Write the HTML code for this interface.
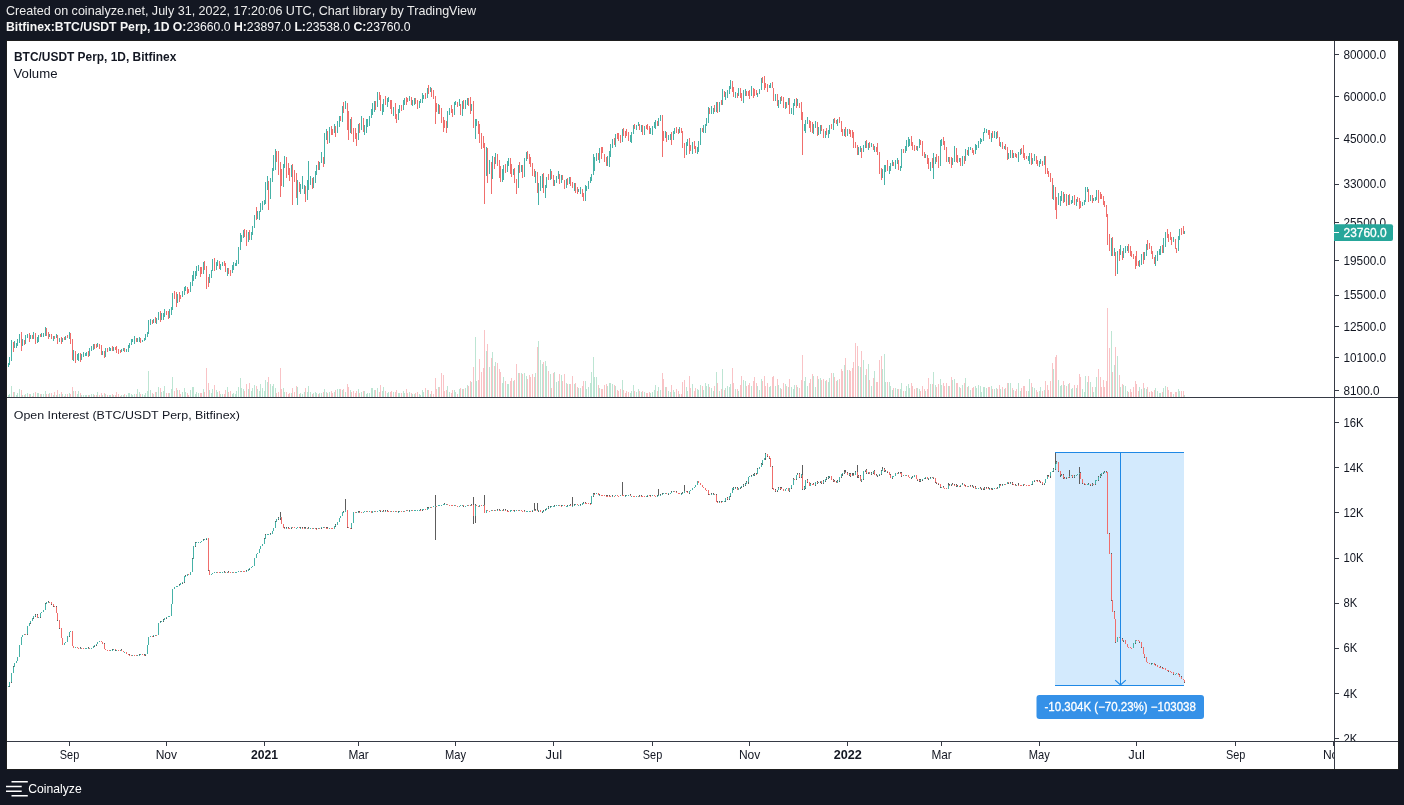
<!DOCTYPE html>
<html><head><meta charset="utf-8"><title>BTC/USDT Perp Chart</title>
<style>html,body{margin:0;padding:0;background:#131722;width:1404px;height:805px;overflow:hidden}</style></head>
<body>
<svg width="1404" height="805" viewBox="0 0 1404 805" style="position:absolute;left:0;top:0;will-change:transform" font-family="'Liberation Sans', Arial, sans-serif"><defs><clipPath id="cp"><rect x="7" y="41" width="1327" height="356"/></clipPath><clipPath id="co"><rect x="7" y="398" width="1327" height="343"/></clipPath><clipPath id="cso"><rect x="1335" y="398" width="63" height="343"/></clipPath><clipPath id="ct"><rect x="7" y="742" width="1327" height="27"/></clipPath></defs><rect x="6.5" y="40.5" width="1392" height="729" fill="#ffffff" stroke="#1e1e1e" stroke-width="1"/><text x="6" y="14.5" font-size="12.4" fill="#ededed" textLength="470.1" lengthAdjust="spacingAndGlyphs">Created on coinalyze.net, July 31, 2022, 17:20:06 UTC, Chart library by TradingView</text><text x="6" y="31.3" font-size="12" fill="#f5f5f5" textLength="404.5" lengthAdjust="spacingAndGlyphs"><tspan font-weight="bold">Bitfinex:BTC/USDT Perp, 1D O:</tspan>23660.0 <tspan font-weight="bold">H:</tspan>23897.0 <tspan font-weight="bold">L:</tspan>23538.0 <tspan font-weight="bold">C:</tspan>23760.0</text><g clip-path="url(#cp)" shape-rendering="crispEdges"><path d="M8.5 395V397M9.5 394V397M11.5 386V397M14.5 392V397M16.5 395V397M17.5 393V397M19.5 389V397M22.5 395V397M25.5 394V397M27.5 393V397M30.5 394V397M33.5 393V397M37.5 393V397M38.5 393V397M41.5 394V397M43.5 394V397M45.5 391V397M49.5 393V397M53.5 395V397M56.5 395V397M59.5 394V397M62.5 394V397M65.5 394V397M69.5 393V397M73.5 391V397M77.5 394V397M78.5 391V397M81.5 395V397M83.5 395V397M85.5 395V397M86.5 395V397M89.5 395V397M91.5 394V397M93.5 394V397M97.5 392V397M102.5 395V397M105.5 394V397M109.5 395V397M110.5 395V397M113.5 395V397M121.5 395V397M123.5 395V397M126.5 395V397M128.5 393V397M129.5 393V397M131.5 394V397M132.5 395V397M134.5 394V397M137.5 389V397M139.5 392V397M142.5 394V397M144.5 395V397M145.5 393V397M147.5 391V397M148.5 371V397M150.5 390V397M153.5 394V397M156.5 392V397M158.5 387V397M161.5 392V397M163.5 391V397M164.5 386V397M169.5 393V397M171.5 389V397M172.5 377V397M177.5 390V397M182.5 392V397M184.5 388V397M185.5 392V397M190.5 390V397M192.5 387V397M193.5 387V397M195.5 394V397M196.5 392V397M198.5 393V397M203.5 389V397M209.5 390V397M211.5 393V397M212.5 389V397M216.5 390V397M217.5 392V397M220.5 394V397M222.5 394V397M227.5 387V397M232.5 394V397M233.5 393V397M235.5 394V397M236.5 391V397M238.5 387V397M240.5 378V397M241.5 388V397M243.5 389V397M248.5 389V397M251.5 391V397M252.5 388V397M254.5 385V397M257.5 389V397M259.5 391V397M260.5 384V397M262.5 388V397M264.5 391V397M265.5 380V397M267.5 382V397M270.5 384V397M272.5 386V397M273.5 384V397M275.5 388V397M283.5 388V397M284.5 392V397M291.5 393V397M297.5 387V397M300.5 393V397M302.5 394V397M304.5 392V397M307.5 392V397M308.5 386V397M310.5 392V397M313.5 393V397M315.5 392V397M316.5 393V397M319.5 393V397M321.5 393V397M324.5 389V397M326.5 392V397M329.5 392V397M334.5 392V397M337.5 389V397M339.5 389V397M342.5 390V397M345.5 392V397M350.5 390V397M358.5 389V397M361.5 392V397M364.5 391V397M366.5 394V397M367.5 393V397M369.5 393V397M371.5 388V397M372.5 388V397M374.5 390V397M377.5 388V397M382.5 391V397M383.5 387V397M387.5 393V397M388.5 392V397M393.5 392V397M398.5 393V397M399.5 393V397M403.5 391V397M404.5 393V397M409.5 392V397M412.5 394V397M414.5 394V397M419.5 394V397M420.5 395V397M422.5 390V397M423.5 392V397M427.5 390V397M430.5 394V397M438.5 387V397M447.5 386V397M449.5 392V397M454.5 390V397M455.5 392V397M459.5 389V397M462.5 389V397M465.5 388V397M467.5 385V397M471.5 382V397M475.5 337V397M476.5 381V397M486.5 351V397M489.5 367V397M492.5 352V397M495.5 362V397M502.5 383V397M503.5 377V397M507.5 384V397M508.5 384V397M513.5 381V397M518.5 373V397M521.5 373V397M524.5 373V397M526.5 376V397M535.5 373V397M538.5 341V397M540.5 360V397M542.5 364V397M545.5 361V397M546.5 366V397M550.5 374V397M554.5 372V397M556.5 382V397M558.5 381V397M561.5 375V397M566.5 383V397M569.5 384V397M574.5 384V397M578.5 388V397M580.5 388V397M585.5 381V397M586.5 389V397M588.5 387V397M590.5 383V397M591.5 372V397M593.5 357V397M594.5 377V397M596.5 377V397M599.5 388V397M607.5 386V397M609.5 383V397M610.5 383V397M612.5 384V397M615.5 386V397M622.5 380V397M630.5 393V397M631.5 391V397M633.5 385V397M636.5 392V397M638.5 389V397M641.5 392V397M644.5 392V397M650.5 393V397M652.5 392V397M654.5 390V397M655.5 385V397M658.5 387V397M660.5 390V397M665.5 387V397M668.5 391V397M670.5 392V397M673.5 390V397M674.5 392V397M679.5 394V397M686.5 387V397M687.5 391V397M692.5 384V397M697.5 389V397M698.5 390V397M700.5 385V397M703.5 390V397M705.5 383V397M706.5 386V397M708.5 384V397M711.5 388V397M713.5 391V397M716.5 372V397M719.5 391V397M722.5 369V397M725.5 388V397M727.5 386V397M729.5 387V397M730.5 384V397M735.5 389V397M738.5 391V397M743.5 380V397M745.5 381V397M751.5 386V397M757.5 386V397M759.5 390V397M761.5 379V397M769.5 387V397M770.5 386V397M775.5 386V397M778.5 385V397M780.5 388V397M785.5 384V397M788.5 387V397M791.5 387V397M793.5 389V397M794.5 385V397M797.5 387V397M804.5 381V397M805.5 377V397M807.5 386V397M813.5 376V397M815.5 387V397M818.5 379V397M820.5 378V397M825.5 381V397M828.5 382V397M829.5 378V397M833.5 373V397M837.5 380V397M844.5 365V397M847.5 370V397M858.5 366V397M860.5 367V397M863.5 360V397M865.5 375V397M868.5 364V397M871.5 386V397M874.5 371V397M882.5 369V397M884.5 354V397M885.5 382V397M889.5 382V397M890.5 386V397M892.5 390V397M895.5 388V397M897.5 389V397M900.5 389V397M901.5 383V397M905.5 391V397M906.5 386V397M908.5 384V397M909.5 388V397M917.5 388V397M919.5 389V397M925.5 391V397M930.5 384V397M933.5 372V397M935.5 385V397M940.5 379V397M941.5 385V397M948.5 386V397M952.5 380V397M954.5 379V397M959.5 387V397M962.5 385V397M965.5 378V397M968.5 386V397M970.5 390V397M975.5 386V397M976.5 388V397M978.5 385V397M980.5 386V397M981.5 392V397M983.5 387V397M984.5 387V397M986.5 388V397M991.5 386V397M994.5 389V397M996.5 388V397M1000.5 389V397M1004.5 389V397M1008.5 383V397M1010.5 383V397M1013.5 390V397M1018.5 383V397M1020.5 391V397M1028.5 391V397M1029.5 379V397M1032.5 387V397M1034.5 388V397M1039.5 391V397M1040.5 387V397M1044.5 390V397M1053.5 369V397M1058.5 380V397M1060.5 386V397M1061.5 385V397M1064.5 385V397M1068.5 384V397M1071.5 389V397M1072.5 388V397M1076.5 388V397M1082.5 389V397M1084.5 392V397M1085.5 376V397M1087.5 382V397M1090.5 382V397M1093.5 392V397M1095.5 387V397M1096.5 377V397M1111.5 331V397M1114.5 365V397M1117.5 356V397M1120.5 387V397M1123.5 385V397M1125.5 386V397M1127.5 391V397M1139.5 387V397M1141.5 389V397M1144.5 388V397M1146.5 389V397M1155.5 388V397M1157.5 391V397M1159.5 393V397M1160.5 393V397M1163.5 388V397M1165.5 386V397M1173.5 394V397M1178.5 389V397M1179.5 391V397M1184.5 395V397" stroke="#bde5d3" stroke-width="1" fill="none"/><path d="M13.5 392V397M21.5 390V397M24.5 395V397M29.5 394V397M32.5 396V397M35.5 392V397M40.5 394V397M46.5 394V397M48.5 394V397M51.5 393V397M54.5 392V397M57.5 390V397M61.5 392V397M64.5 396V397M67.5 394V397M70.5 394V397M72.5 387V397M75.5 391V397M80.5 393V397M88.5 395V397M94.5 395V397M96.5 395V397M99.5 395V397M101.5 393V397M104.5 393V397M107.5 395V397M112.5 394V397M115.5 395V397M116.5 392V397M118.5 394V397M120.5 396V397M124.5 394V397M136.5 394V397M140.5 394V397M152.5 393V397M155.5 392V397M160.5 388V397M166.5 393V397M168.5 393V397M174.5 391V397M176.5 388V397M179.5 390V397M180.5 394V397M187.5 393V397M188.5 395V397M200.5 393V397M201.5 393V397M204.5 392V397M206.5 368V397M208.5 383V397M214.5 385V397M219.5 391V397M224.5 394V397M225.5 390V397M228.5 392V397M230.5 391V397M244.5 391V397M246.5 384V397M249.5 383V397M256.5 386V397M268.5 377V397M276.5 393V397M278.5 392V397M280.5 368V397M281.5 389V397M286.5 392V397M288.5 394V397M289.5 393V397M292.5 388V397M294.5 392V397M296.5 386V397M299.5 394V397M305.5 388V397M312.5 394V397M318.5 394V397M323.5 392V397M327.5 393V397M331.5 391V397M332.5 393V397M335.5 390V397M340.5 389V397M343.5 389V397M347.5 384V397M348.5 387V397M351.5 392V397M353.5 391V397M355.5 393V397M356.5 391V397M359.5 393V397M363.5 391V397M375.5 390V397M379.5 392V397M380.5 385V397M385.5 391V397M390.5 392V397M391.5 391V397M395.5 392V397M396.5 390V397M401.5 393V397M406.5 389V397M407.5 393V397M411.5 393V397M415.5 393V397M417.5 392V397M425.5 388V397M428.5 390V397M431.5 391V397M433.5 394V397M435.5 378V397M436.5 389V397M439.5 387V397M441.5 373V397M443.5 375V397M444.5 391V397M446.5 390V397M451.5 393V397M452.5 390V397M457.5 394V397M460.5 388V397M463.5 389V397M468.5 386V397M470.5 381V397M473.5 367V397M478.5 380V397M479.5 359V397M481.5 372V397M483.5 368V397M484.5 330V397M487.5 344V397M491.5 358V397M494.5 366V397M497.5 363V397M499.5 369V397M500.5 372V397M505.5 381V397M510.5 381V397M511.5 378V397M514.5 380V397M516.5 364V397M519.5 373V397M522.5 374V397M527.5 379V397M529.5 375V397M530.5 377V397M532.5 374V397M534.5 377V397M537.5 347V397M543.5 362V397M548.5 371V397M551.5 388V397M553.5 373V397M559.5 374V397M562.5 381V397M564.5 374V397M567.5 384V397M570.5 384V397M572.5 376V397M575.5 383V397M577.5 387V397M582.5 386V397M583.5 381V397M598.5 385V397M601.5 389V397M602.5 389V397M604.5 385V397M606.5 384V397M614.5 385V397M617.5 390V397M618.5 391V397M620.5 389V397M623.5 390V397M625.5 393V397M626.5 391V397M628.5 392V397M634.5 391V397M639.5 391V397M642.5 391V397M646.5 393V397M647.5 393V397M649.5 392V397M657.5 391V397M662.5 373V397M663.5 379V397M666.5 387V397M671.5 385V397M676.5 389V397M678.5 391V397M681.5 394V397M682.5 382V397M684.5 380V397M689.5 376V397M690.5 388V397M694.5 391V397M695.5 388V397M702.5 386V397M709.5 387V397M714.5 386V397M717.5 383V397M721.5 389V397M724.5 390V397M732.5 368V397M733.5 383V397M737.5 389V397M740.5 385V397M741.5 376V397M746.5 386V397M748.5 385V397M749.5 383V397M753.5 381V397M754.5 377V397M756.5 383V397M762.5 381V397M764.5 376V397M765.5 386V397M767.5 383V397M772.5 377V397M773.5 376V397M777.5 379V397M781.5 389V397M783.5 383V397M786.5 386V397M789.5 379V397M796.5 385V397M799.5 388V397M801.5 380V397M802.5 355V397M809.5 383V397M810.5 379V397M812.5 374V397M817.5 376V397M821.5 380V397M823.5 379V397M826.5 380V397M831.5 373V397M834.5 377V397M836.5 381V397M839.5 379V397M841.5 369V397M842.5 371V397M845.5 358V397M849.5 370V397M850.5 371V397M852.5 368V397M853.5 362V397M855.5 343V397M857.5 346V397M861.5 351V397M866.5 369V397M869.5 380V397M873.5 378V397M876.5 382V397M877.5 382V397M879.5 360V397M881.5 356V397M887.5 382V397M893.5 388V397M898.5 389V397M903.5 391V397M911.5 383V397M912.5 386V397M914.5 389V397M916.5 388V397M920.5 391V397M922.5 386V397M924.5 389V397M927.5 389V397M928.5 378V397M932.5 384V397M936.5 387V397M938.5 384V397M943.5 383V397M944.5 386V397M946.5 383V397M949.5 386V397M951.5 377V397M956.5 383V397M957.5 383V397M960.5 388V397M964.5 383V397M967.5 387V397M972.5 388V397M973.5 387V397M988.5 387V397M989.5 387V397M992.5 389V397M997.5 389V397M999.5 385V397M1002.5 387V397M1005.5 388V397M1007.5 383V397M1012.5 388V397M1015.5 391V397M1016.5 389V397M1021.5 388V397M1023.5 386V397M1024.5 386V397M1026.5 391V397M1031.5 383V397M1036.5 390V397M1037.5 392V397M1042.5 391V397M1045.5 381V397M1047.5 385V397M1048.5 390V397M1050.5 381V397M1052.5 363V397M1055.5 357V397M1056.5 355V397M1063.5 381V397M1066.5 386V397M1069.5 383V397M1074.5 385V397M1077.5 385V397M1079.5 374V397M1080.5 377V397M1088.5 376V397M1092.5 387V397M1098.5 369V397M1100.5 377V397M1101.5 387V397M1103.5 380V397M1104.5 387V397M1106.5 381V397M1107.5 308V397M1109.5 348V397M1112.5 372V397M1115.5 347V397M1119.5 375V397M1122.5 384V397M1128.5 392V397M1130.5 389V397M1131.5 392V397M1133.5 387V397M1135.5 381V397M1136.5 384V397M1138.5 391V397M1143.5 383V397M1147.5 387V397M1149.5 392V397M1151.5 391V397M1152.5 392V397M1154.5 390V397M1162.5 392V397M1167.5 387V397M1168.5 390V397M1170.5 392V397M1171.5 392V397M1175.5 392V397M1176.5 392V397M1181.5 391V397M1183.5 391V397" stroke="#f9c3c6" stroke-width="1" fill="none"/><path d="M8.5 363V367M9.5 357V365M11.5 340V361M14.5 341V348M16.5 343V348M17.5 339V346M19.5 334V343M22.5 339V346M25.5 335V344M27.5 334V338M30.5 335V339M33.5 332V339M37.5 337V343M38.5 335V342M41.5 333V337M43.5 333V337M45.5 327V336M49.5 334V337M53.5 336V341M56.5 334V338M59.5 338V342M62.5 338V342M65.5 336V340M69.5 332V339M73.5 350V361M77.5 354V360M78.5 353V361M81.5 354V360M83.5 352V357M85.5 353V356M86.5 352V356M89.5 348V356M91.5 346V351M93.5 344V350M97.5 343V347M102.5 351V355M105.5 348V357M109.5 347V351M110.5 348V351M113.5 347V351M121.5 349V352M123.5 348V351M126.5 349V352M128.5 345V352M129.5 343V348M131.5 339V345M132.5 339V342M134.5 336V344M137.5 338V342M139.5 337V342M142.5 340V342M144.5 338V341M145.5 334V340M147.5 332V337M148.5 320V334M150.5 319V325M153.5 319V323M156.5 318V324M158.5 312V320M161.5 313V320M163.5 313V320M164.5 309V317M169.5 309V318M171.5 307V315M172.5 293V310M177.5 294V303M182.5 291V297M184.5 287V295M185.5 286V291M190.5 282V292M192.5 275V286M193.5 271V281M195.5 271V279M196.5 266V276M198.5 265V271M203.5 262V274M209.5 274V283M211.5 270V278M212.5 259V271M216.5 262V270M217.5 260V266M220.5 264V270M222.5 262V266M227.5 268V276M232.5 265V273M233.5 262V270M235.5 263V266M236.5 260V266M238.5 247V264M240.5 233V250M241.5 235V242M243.5 230V238M248.5 232V242M251.5 232V240M252.5 226V235M254.5 215V228M257.5 211V219M259.5 211V220M260.5 203V212M262.5 201V210M264.5 200V205M265.5 182V204M267.5 176V190M270.5 178V199M272.5 168V182M273.5 155V171M275.5 149V170M283.5 164V187M284.5 156V168M291.5 165V177M297.5 180V205M300.5 184V194M302.5 176V189M304.5 185V194M307.5 180V200M308.5 161V190M310.5 176V185M313.5 177V188M315.5 171V183M316.5 165V175M319.5 162V170M321.5 152V163M324.5 133V164M326.5 129V140M329.5 127V143M334.5 124V133M337.5 121V133M339.5 116V127M342.5 106V122M345.5 101V109M350.5 119V133M358.5 124V140M361.5 116V130M364.5 125V135M366.5 119V133M367.5 119V127M369.5 116V126M371.5 109V118M372.5 103V115M374.5 101V112M377.5 92V107M382.5 104V115M383.5 99V112M387.5 98V107M388.5 97V102M393.5 107V116M398.5 109V120M399.5 105V113M403.5 100V110M404.5 98V105M409.5 96V101M412.5 100V106M414.5 98V105M419.5 101V108M420.5 99V103M422.5 93V103M423.5 95V99M427.5 88V98M430.5 87V92M438.5 104V114M447.5 111V128M449.5 108V115M454.5 102V115M455.5 101V105M459.5 99V106M462.5 101V116M465.5 100V109M467.5 98V105M471.5 104V111M475.5 119V139M476.5 119V126M486.5 147V176M489.5 160V174M492.5 156V179M495.5 153V164M502.5 169V182M503.5 165V180M507.5 161V172M508.5 158V166M513.5 169V175M518.5 165V188M521.5 165V172M524.5 158V177M526.5 152V161M535.5 171V183M538.5 183V205M540.5 176V191M542.5 174V188M545.5 185V198M546.5 177V188M550.5 169V180M554.5 180V186M556.5 176V183M558.5 171V179M561.5 175V183M566.5 179V188M569.5 177V184M574.5 183V191M578.5 189V192M580.5 187V194M585.5 185V201M586.5 186V191M588.5 181V189M590.5 177V183M591.5 174V181M593.5 154V175M594.5 157V171M596.5 153V161M599.5 148V163M607.5 156V166M609.5 151V167M610.5 144V157M612.5 139V148M615.5 134V147M622.5 129V142M630.5 135V142M631.5 132V143M633.5 125V134M636.5 125V130M638.5 122V126M641.5 125V132M644.5 126V135M650.5 128V134M652.5 126V135M654.5 122V128M655.5 120V129M658.5 118V126M660.5 115V121M665.5 131V138M668.5 135V140M670.5 134V140M673.5 131V140M674.5 128V134M679.5 127V133M686.5 142V155M687.5 139V146M692.5 142V154M697.5 147V154M698.5 141V152M700.5 128V145M703.5 125V133M705.5 124V133M706.5 118V126M708.5 107V123M711.5 106V114M713.5 108V114M716.5 102V112M719.5 102V112M722.5 89V105M725.5 92V100M727.5 90V98M729.5 86V94M730.5 80V89M735.5 92V98M738.5 88V96M743.5 90V103M745.5 89V96M751.5 86V96M757.5 93V97M759.5 89V94M761.5 78V90M769.5 85V88M770.5 83V88M775.5 94V101M778.5 100V108M780.5 97V104M785.5 102V109M788.5 98V105M791.5 108V114M793.5 103V115M794.5 99V106M797.5 99V106M804.5 124V131M805.5 120V133M807.5 117V124M813.5 124V134M815.5 121V128M818.5 127V135M820.5 125V134M825.5 131V138M828.5 130V138M829.5 125V134M833.5 119V130M837.5 119V126M844.5 129V136M847.5 129V136M858.5 147V155M860.5 146V152M863.5 145V152M865.5 141V148M868.5 143V150M871.5 143V147M874.5 146V152M882.5 169V178M884.5 165V185M885.5 165V172M889.5 166V174M890.5 163V171M892.5 160V166M895.5 160V169M897.5 158V164M900.5 166V171M901.5 149V168M905.5 146V153M906.5 140V151M908.5 137V147M909.5 139V146M917.5 146V151M919.5 139V148M925.5 154V158M930.5 162V171M933.5 153V179M935.5 157V164M940.5 140V166M941.5 139V146M948.5 157V162M952.5 158V165M954.5 146V162M959.5 158V162M962.5 156V166M965.5 149V161M968.5 147V156M970.5 147V150M975.5 144V154M976.5 145V150M978.5 141V148M980.5 138V144M981.5 139V142M983.5 132V141M984.5 128V133M986.5 129V133M991.5 133V142M994.5 131V138M996.5 132V139M1000.5 142V147M1004.5 146V149M1008.5 153V159M1010.5 150V158M1013.5 153V158M1018.5 152V162M1020.5 149V155M1028.5 156V161M1029.5 153V164M1032.5 158V164M1034.5 154V161M1039.5 161V167M1040.5 159V164M1044.5 156V165M1053.5 185V200M1058.5 193V205M1060.5 196V206M1061.5 191V201M1064.5 194V202M1068.5 195V205M1071.5 200V204M1072.5 196V203M1076.5 199V206M1082.5 202V206M1084.5 200V205M1085.5 187V202M1087.5 187V192M1090.5 195V201M1093.5 198V201M1095.5 197V201M1096.5 190V200M1111.5 238V256M1114.5 248V256M1117.5 251V274M1120.5 245V255M1123.5 248V258M1125.5 246V253M1127.5 246V251M1139.5 260V267M1141.5 254V265M1144.5 252V260M1146.5 244V256M1155.5 255V266M1157.5 251V261M1159.5 249V255M1160.5 246V255M1163.5 238V253M1165.5 232V247M1173.5 237V242M1178.5 236V251M1179.5 229V240M1184.5 231V234" stroke="#46b2a7" stroke-width="1" fill="none"/><path d="M13.5 342V352M21.5 332V351M24.5 340V345M29.5 333V342M32.5 335V339M35.5 333V344M40.5 334V337M46.5 328V336M48.5 332V339M51.5 334V339M54.5 336V339M57.5 335V344M61.5 337V344M64.5 337V340M67.5 335V338M70.5 333V344M72.5 339V360M75.5 351V363M80.5 353V362M88.5 351V357M94.5 344V349M96.5 344V348M99.5 344V349M101.5 345V355M104.5 351V358M107.5 348V352M112.5 346V351M115.5 347V350M116.5 346V353M118.5 349V354M120.5 350V353M124.5 348V352M136.5 338V342M140.5 338V343M152.5 320V324M155.5 317V323M160.5 311V322M166.5 311V315M168.5 311V319M174.5 291V299M176.5 292V307M179.5 292V302M180.5 295V299M187.5 287V294M188.5 289V293M200.5 267V277M201.5 267V274M204.5 261V270M206.5 266V289M208.5 277V287M214.5 258V271M219.5 261V269M224.5 261V266M225.5 263V272M228.5 268V274M230.5 270V276M244.5 229V237M246.5 230V246M249.5 230V240M256.5 207V220M268.5 181V210M276.5 151V162M278.5 151V175M280.5 162V197M281.5 169V186M286.5 157V178M288.5 163V175M289.5 168V181M292.5 164V205M294.5 170V182M296.5 173V198M299.5 182V192M305.5 186V202M312.5 178V189M318.5 161V170M323.5 157V167M327.5 131V144M331.5 126V135M332.5 129V135M335.5 126V137M340.5 116V121M343.5 102V113M347.5 103V130M348.5 111V140M351.5 117V134M353.5 128V142M355.5 128V139M356.5 133V146M359.5 123V133M363.5 118V132M375.5 101V110M379.5 92V100M380.5 95V111M385.5 96V105M390.5 100V109M391.5 100V114M395.5 103V119M396.5 114V123M401.5 105V111M406.5 97V105M407.5 98V102M411.5 97V105M415.5 98V104M417.5 100V109M425.5 93V99M428.5 85V94M431.5 88V97M433.5 90V99M435.5 96V124M436.5 103V112M439.5 105V114M441.5 108V123M443.5 117V132M444.5 120V128M446.5 121V133M451.5 105V113M452.5 109V117M457.5 102V107M460.5 104V115M463.5 100V109M468.5 98V106M470.5 97V114M473.5 101V128M478.5 121V134M479.5 124V143M481.5 133V149M483.5 136V148M484.5 143V204M487.5 148V183M491.5 162V194M494.5 157V169M497.5 154V166M499.5 160V178M500.5 166V182M505.5 164V173M510.5 158V174M511.5 164V177M514.5 168V183M516.5 179V194M519.5 162V173M522.5 165V178M527.5 151V159M529.5 154V164M530.5 157V167M532.5 163V176M534.5 169V177M537.5 172V193M543.5 173V193M548.5 174V180M551.5 171V179M553.5 175V186M559.5 174V184M562.5 175V180M564.5 180V189M567.5 178V185M570.5 177V186M572.5 182V188M575.5 183V193M577.5 187V194M582.5 189V197M583.5 193V201M598.5 153V160M601.5 147V159M602.5 147V153M604.5 154V162M606.5 157V166M614.5 138V145M617.5 133V139M618.5 133V141M620.5 135V143M623.5 128V136M625.5 131V138M626.5 129V136M628.5 132V141M634.5 124V129M639.5 124V130M642.5 125V135M646.5 125V129M647.5 124V130M649.5 126V134M657.5 121V126M662.5 115V157M663.5 131V141M666.5 132V142M671.5 132V145M676.5 127V133M678.5 129V134M681.5 128V133M682.5 131V148M684.5 143V158M689.5 138V154M690.5 145V151M694.5 141V149M695.5 146V153M702.5 128V132M709.5 108V114M714.5 105V112M717.5 102V113M721.5 100V105M724.5 91V97M732.5 81V92M733.5 87V97M737.5 93V98M740.5 88V98M741.5 93V101M746.5 91V96M748.5 91V96M749.5 90V99M753.5 88V98M754.5 89V96M756.5 90V95M762.5 77V83M764.5 76V90M765.5 83V88M767.5 84V92M772.5 82V88M773.5 88V101M777.5 94V106M781.5 96V101M783.5 97V108M786.5 102V108M789.5 98V114M796.5 98V108M799.5 103V108M801.5 102V120M802.5 112V155M809.5 120V128M810.5 121V132M812.5 122V133M817.5 122V136M821.5 125V131M823.5 129V138M826.5 128V135M831.5 124V129M834.5 118V123M836.5 120V124M839.5 117V123M841.5 121V132M842.5 129V136M845.5 127V137M849.5 129V134M850.5 130V137M852.5 130V138M853.5 132V148M855.5 142V148M857.5 145V155M861.5 148V158M866.5 140V148M869.5 142V148M873.5 144V150M876.5 147V152M877.5 143V155M879.5 152V174M881.5 168V180M887.5 160V171M893.5 162V166M898.5 160V170M903.5 149V153M911.5 136V146M912.5 142V150M914.5 145V151M916.5 146V150M920.5 140V145M922.5 141V156M924.5 152V158M927.5 155V164M928.5 158V169M932.5 158V168M936.5 154V162M938.5 156V168M943.5 137V145M944.5 141V150M946.5 147V162M949.5 157V164M951.5 157V168M956.5 148V162M957.5 155V163M960.5 158V166M964.5 156V164M967.5 150V155M972.5 148V153M973.5 150V155M988.5 130V135M989.5 130V139M992.5 131V138M997.5 131V138M999.5 137V146M1002.5 142V149M1005.5 144V150M1007.5 147V160M1012.5 150V158M1015.5 153V157M1016.5 154V158M1021.5 148V154M1023.5 145V158M1024.5 153V160M1026.5 156V159M1031.5 153V165M1036.5 156V164M1037.5 160V166M1042.5 161V166M1045.5 156V174M1047.5 168V174M1048.5 171V177M1050.5 173V182M1052.5 178V199M1055.5 187V210M1056.5 197V219M1063.5 192V203M1066.5 194V206M1069.5 194V205M1074.5 195V205M1077.5 197V202M1079.5 198V209M1080.5 201V208M1088.5 189V202M1092.5 195V203M1098.5 190V203M1100.5 192V199M1101.5 194V199M1103.5 196V205M1104.5 201V207M1106.5 205V217M1107.5 214V245M1109.5 234V251M1112.5 237V256M1115.5 252V276M1119.5 249V261M1122.5 251V260M1128.5 244V253M1130.5 246V256M1131.5 251V257M1133.5 254V259M1135.5 256V269M1136.5 251V266M1138.5 261V266M1143.5 252V264M1147.5 240V250M1149.5 243V249M1151.5 246V254M1152.5 251V259M1154.5 257V264M1162.5 245V253M1167.5 229V238M1168.5 234V242M1170.5 232V240M1171.5 237V245M1175.5 239V249M1176.5 248V253M1181.5 228V235M1183.5 226V234" stroke="#f06e6c" stroke-width="1" fill="none"/></g><g clip-path="url(#co)" shape-rendering="crispEdges"><rect x="1055" y="453" width="129" height="232" fill="rgba(33,150,243,0.2)"/><path d="M9.5 686V687M11.5 682V683M13.5 666V667M27.5 634V635M30.5 623V624M33.5 618V619M35.5 614V615M35.5 616V617M37.5 614V615M40.5 617V618M45.5 603V604M48.5 601V602M51.5 604V605M53.5 606V607M56.5 606V607M57.5 620V621M59.5 628V629M69.5 636V637M80.5 647V648M88.5 647V648M94.5 646V647M96.5 645V646M104.5 643V644M112.5 649V650M115.5 650V651M121.5 649V650M129.5 654V655M139.5 654V655M144.5 654V655M145.5 655V656M153.5 636V637M160.5 621V622M163.5 619V620M163.5 621V622M166.5 618V619M179.5 584V585M182.5 583V584M184.5 582V583M185.5 575V576M192.5 558V559M195.5 542V543M195.5 546V547M203.5 539V540M206.5 539V540M208.5 570V571M224.5 571V572M228.5 571V572M246.5 570V571M249.5 569V570M264.5 538V539M265.5 534V535M270.5 533V534M275.5 521V522M278.5 517V518M278.5 519V520M280.5 512V517M280.5 518V520M284.5 527V528M286.5 527V528M288.5 527V528M291.5 528V529M300.5 527V528M302.5 527V528M304.5 527V528M305.5 527V528M308.5 527V528M316.5 528V529M321.5 528V529M326.5 527V528M327.5 527V528M335.5 524V525M335.5 526V527M343.5 511V512M345.5 499V510M347.5 527V528M351.5 528V529M358.5 511V512M359.5 511V512M380.5 511V512M383.5 510V511M385.5 510V511M387.5 510V511M398.5 511V512M409.5 510V511M420.5 509V510M422.5 510V511M427.5 507V508M428.5 507V508M435.5 495V506M435.5 507V540M444.5 503V504M463.5 506V507M471.5 504V505M473.5 497V505M473.5 516V524M475.5 504V505M475.5 516V523M484.5 495V505M497.5 509V510M499.5 509V510M503.5 509V510M505.5 509V510M507.5 510V511M514.5 510V511M524.5 510V511M532.5 511V512M534.5 503V510M535.5 509V510M537.5 503V510M538.5 511V512M542.5 512V513M543.5 510V511M545.5 509V510M548.5 506V507M548.5 508V509M550.5 506V507M554.5 505V506M561.5 505V506M567.5 505V506M570.5 504V505M572.5 497V506M574.5 504V505M580.5 504V505M583.5 502V503M585.5 502V503M590.5 503V504M593.5 493V494M593.5 496V497M594.5 493V494M599.5 494V495M606.5 495V496M607.5 495V496M609.5 495V496M612.5 495V496M622.5 482V495M625.5 495V496M630.5 494V495M639.5 495V496M641.5 495V496M647.5 496V497M650.5 495V496M657.5 495V496M658.5 489V495M660.5 494V495M662.5 493V494M668.5 494V495M671.5 491V492M676.5 491V492M681.5 493V494M682.5 492V493M684.5 485V491M687.5 491V492M689.5 493V494M708.5 494V495M711.5 493V494M713.5 493V494M716.5 494V495M717.5 501V502M719.5 501V502M721.5 501V502M725.5 501V502M727.5 497V498M727.5 499V500M729.5 499V500M730.5 496V497M733.5 487V488M733.5 489V490M735.5 487V488M737.5 487V488M740.5 488V489M741.5 487V488M743.5 484V485M743.5 486V487M745.5 483V484M745.5 485V486M746.5 481V482M748.5 482V484M751.5 475V476M753.5 474V475M754.5 473V474M754.5 475V476M756.5 473V474M757.5 468V469M761.5 463V464M762.5 464V465M765.5 453V454M765.5 458V460M767.5 456V457M769.5 458V459M772.5 466V467M772.5 488V489M775.5 489V490M775.5 491V492M777.5 491V492M778.5 487V488M780.5 487V488M780.5 489V490M781.5 487V488M789.5 491V492M791.5 488V489M793.5 478V479M796.5 479V480M797.5 473V474M799.5 473V474M799.5 477V478M801.5 477V478M802.5 465V475M802.5 489V490M804.5 486V487M804.5 489V490M805.5 488V489M807.5 479V480M807.5 482V483M810.5 483V484M813.5 483V484M815.5 485V486M817.5 481V482M817.5 483V484M820.5 482V483M821.5 483V484M823.5 480V481M823.5 483V484M825.5 481V482M826.5 477V478M826.5 479V480M828.5 476V477M828.5 478V479M829.5 477V478M833.5 479V480M833.5 481V482M834.5 480V481M836.5 481V482M837.5 480V481M839.5 481V482M841.5 477V478M842.5 474V476M844.5 470V472M844.5 473V474M845.5 470V472M847.5 472V473M849.5 473V474M849.5 475V476M850.5 473V474M850.5 476V477M852.5 473V475M853.5 473V475M855.5 471V472M857.5 465V472M857.5 476V478M858.5 475V476M858.5 477V478M860.5 475V476M861.5 481V482M863.5 479V480M865.5 471V472M866.5 469V470M866.5 473V474M868.5 473V474M871.5 472V473M871.5 474V475M873.5 473V474M874.5 470V471M876.5 474V475M877.5 476V477M879.5 475V476M881.5 470V471M881.5 474V475M882.5 467V469M884.5 468V469M884.5 471V472M885.5 470V471M887.5 472V473M890.5 474V475M892.5 478V479M898.5 472V473M900.5 472V473M901.5 472V473M901.5 476V477M911.5 478V479M912.5 476V477M917.5 480V481M919.5 479V480M919.5 481V482M920.5 479V480M920.5 481V482M922.5 480V481M925.5 478V479M928.5 479V480M930.5 477V478M933.5 478V479M935.5 482V483M936.5 483V484M938.5 484V485M940.5 487V488M943.5 486V487M948.5 483V485M949.5 484V485M951.5 485V486M952.5 483V484M954.5 484V485M956.5 484V485M956.5 486V487M957.5 485V486M960.5 486V487M962.5 483V484M965.5 485V486M970.5 485V486M972.5 485V486M973.5 487V488M975.5 486V487M980.5 487V488M981.5 489V490M983.5 489V490M984.5 487V488M984.5 489V490M986.5 487V488M988.5 487V488M989.5 488V489M991.5 488V489M992.5 489V490M997.5 487V488M999.5 484V485M1000.5 484V485M1002.5 484V485M1008.5 483V484M1010.5 482V483M1012.5 482V483M1012.5 484V485M1015.5 484V485M1018.5 483V485M1023.5 485V486M1032.5 484V485M1034.5 481V482M1037.5 480V481M1039.5 480V481M1040.5 482V483M1042.5 484V485M1044.5 484V485M1047.5 475V476M1048.5 475V476M1050.5 476V478M1053.5 468V469M1053.5 471V472M1055.5 453V464M1055.5 469V470M1056.5 461V462M1058.5 471V472M1060.5 475V477M1061.5 474V475M1063.5 474V475M1063.5 478V479M1064.5 477V478M1066.5 478V479M1069.5 470V476M1069.5 477V478M1072.5 477V478M1074.5 475V476M1074.5 477V478M1079.5 467V473M1079.5 474V484M1080.5 472V473M1082.5 483V484M1084.5 484V485M1088.5 483V484M1090.5 485V486M1092.5 483V484M1092.5 485V486M1095.5 484V485M1098.5 476V477M1098.5 480V481M1100.5 474V475M1100.5 477V478M1101.5 475V476M1103.5 473V474M1104.5 471V472M1106.5 471V472M1109.5 533V534M1111.5 553V554M1111.5 600V601M1114.5 611V612M1115.5 642V643M1122.5 638V639M1123.5 641V642M1135.5 643V644M1139.5 642V643M1141.5 647V648M1144.5 657V658M1151.5 663V664M1155.5 664V665M1160.5 666V667M1162.5 667V668M1168.5 671V672M1173.5 674V675M1179.5 674V675M1181.5 676V677M1184.5 682V683" stroke="#5d5d5d" stroke-width="1" fill="none"/><path d="M8.5 686V687M9.5 682V686M11.5 673V682M13.5 667V673M14.5 663V667M16.5 661V663M17.5 657V661M19.5 645V657M21.5 637V645M22.5 635V637M24.5 634V635M27.5 626V634M29.5 623V626M30.5 621V623M32.5 618V621M33.5 616V618M35.5 615V616M38.5 617V618M40.5 613V617M41.5 612V613M43.5 610V612M45.5 604V610M46.5 602V604M48.5 602V603M64.5 643V645M65.5 642V643M67.5 636V642M69.5 632V636M70.5 631V632M75.5 647V648M80.5 648V649M85.5 648V649M86.5 648V649M88.5 648V649M91.5 648V649M93.5 646V648M94.5 645V646M96.5 644V645M97.5 642V644M99.5 641V642M110.5 650V651M112.5 650V651M113.5 649V650M116.5 650V651M120.5 650V651M124.5 652V653M132.5 655V656M137.5 655V656M139.5 655V656M140.5 654V655M145.5 654V655M147.5 645V654M148.5 637V645M150.5 636V637M153.5 635V636M155.5 635V636M158.5 623V635M160.5 622V623M161.5 621V622M163.5 620V621M164.5 618V620M166.5 617V618M168.5 616V617M169.5 616V617M171.5 604V616M172.5 589V604M174.5 587V589M176.5 586V587M177.5 586V587M179.5 585V586M180.5 583V585M182.5 582V583M184.5 576V582M185.5 576V577M187.5 574V576M190.5 572V575M192.5 559V572M193.5 546V559M195.5 543V546M196.5 542V543M198.5 542V543M200.5 542V543M201.5 541V542M203.5 540V541M204.5 539V540M206.5 538V539M211.5 574V575M212.5 573V574M214.5 572V573M216.5 572V573M220.5 572V573M222.5 572V573M224.5 572V573M227.5 572V573M232.5 572V573M235.5 572V573M236.5 572V573M238.5 571V572M241.5 571V572M246.5 571V572M248.5 569V571M249.5 568V569M251.5 567V568M252.5 566V567M254.5 558V566M256.5 554V558M257.5 553V554M259.5 549V553M260.5 546V549M262.5 544V546M264.5 539V544M265.5 535V539M267.5 534V535M268.5 534V535M270.5 534V535M272.5 531V534M273.5 528V531M275.5 522V528M276.5 519V522M278.5 518V519M280.5 517V518M286.5 528V529M291.5 527V528M296.5 528V529M297.5 527V528M300.5 528V529M305.5 528V529M308.5 528V529M310.5 528V529M313.5 528V529M318.5 528V529M321.5 527V528M323.5 527V528M329.5 528V529M334.5 526V529M335.5 525V526M337.5 522V525M339.5 518V522M340.5 516V518M342.5 512V516M343.5 512V513M345.5 510V512M351.5 523V528M353.5 512V523M356.5 512V513M358.5 512V513M363.5 512V513M364.5 511V512M366.5 511V512M369.5 511V512M372.5 511V513M374.5 511V512M377.5 511V512M379.5 510V511M382.5 511V512M385.5 511V512M391.5 511V512M395.5 511V512M398.5 512V513M399.5 511V512M403.5 511V512M406.5 510V511M409.5 511V512M411.5 510V511M414.5 510V511M415.5 510V511M417.5 510V511M419.5 510V511M422.5 509V510M423.5 509V510M427.5 508V510M428.5 508V509M430.5 507V508M433.5 506V507M435.5 506V507M438.5 505V506M439.5 505V506M441.5 505V506M443.5 504V505M444.5 504V505M446.5 504V505M454.5 505V506M459.5 506V507M460.5 505V506M462.5 505V506M465.5 506V507M467.5 505V506M470.5 505V506M475.5 505V516M479.5 505V507M483.5 505V506M486.5 510V513M491.5 510V511M494.5 510V511M497.5 510V511M500.5 510V511M503.5 510V511M510.5 510V512M511.5 510V511M514.5 511V512M516.5 510V511M519.5 510V511M526.5 511V512M527.5 511V512M529.5 511V512M532.5 510V511M535.5 510V511M538.5 510V511M542.5 511V512M543.5 511V512M545.5 510V511M546.5 508V510M548.5 507V508M550.5 507V508M551.5 506V507M553.5 506V507M554.5 506V507M556.5 505V506M558.5 505V506M562.5 505V506M566.5 506V507M567.5 506V507M569.5 505V506M572.5 506V507M574.5 505V506M575.5 504V505M578.5 505V506M580.5 505V506M582.5 503V505M583.5 503V504M591.5 496V504M593.5 494V496M596.5 493V494M599.5 495V496M612.5 496V497M615.5 495V496M620.5 495V496M625.5 496V497M626.5 495V496M628.5 495V496M631.5 496V497M636.5 496V497M639.5 496V497M646.5 496V497M647.5 495V496M652.5 495V496M657.5 496V497M658.5 495V496M660.5 495V496M662.5 494V495M663.5 493V494M665.5 493V494M668.5 493V494M670.5 493V494M671.5 492V493M673.5 491V492M681.5 494V495M682.5 493V494M684.5 491V493M689.5 491V493M690.5 490V491M692.5 488V490M694.5 487V488M695.5 485V487M697.5 481V485M711.5 494V495M713.5 494V495M719.5 502V503M722.5 501V502M724.5 501V502M725.5 498V501M729.5 496V499M730.5 493V496M732.5 488V493M733.5 488V489M735.5 488V489M738.5 488V490M740.5 487V488M741.5 486V487M743.5 485V486M745.5 484V485M746.5 482V484M748.5 477V482M749.5 476V477M751.5 476V477M753.5 475V476M754.5 474V475M757.5 469V474M759.5 467V469M761.5 464V467M762.5 460V464M764.5 458V460M765.5 454V458M777.5 490V491M778.5 488V490M785.5 489V491M786.5 488V489M789.5 488V491M791.5 485V488M793.5 479V485M796.5 475V479M797.5 474V475M801.5 474V477M804.5 487V489M805.5 480V488M810.5 484V486M815.5 482V485M818.5 482V483M820.5 481V482M823.5 481V483M825.5 479V481M826.5 478V479M828.5 477V478M829.5 476V477M837.5 481V483M839.5 477V481M841.5 474V477M842.5 473V474M844.5 472V473M849.5 474V475M852.5 475V476M855.5 472V475M861.5 479V481M863.5 471V479M865.5 470V471M868.5 472V473M871.5 473V474M873.5 471V473M877.5 475V476M879.5 474V475M881.5 471V474M882.5 469V471M885.5 471V472M892.5 476V478M893.5 476V477M895.5 473V476M898.5 473V474M903.5 475V476M906.5 475V476M911.5 477V478M912.5 477V478M914.5 475V477M920.5 480V481M922.5 479V480M924.5 478V479M925.5 477V478M928.5 478V479M930.5 478V479M932.5 477V478M941.5 487V488M948.5 485V489M951.5 484V485M957.5 486V487M960.5 485V486M962.5 484V485M968.5 486V487M972.5 486V487M976.5 488V489M978.5 488V489M981.5 488V489M984.5 488V489M989.5 489V490M992.5 488V489M994.5 488V489M997.5 488V489M999.5 485V488M1002.5 485V486M1004.5 484V485M1007.5 482V484M1010.5 483V484M1016.5 485V486M1023.5 484V485M1031.5 484V485M1032.5 481V484M1034.5 480V481M1044.5 483V484M1045.5 479V483M1047.5 476V479M1050.5 472V476M1052.5 471V472M1053.5 469V471M1055.5 464V469M1056.5 462V464M1061.5 475V476M1066.5 477V478M1069.5 476V477M1071.5 475V476M1074.5 476V477M1076.5 475V476M1077.5 474V475M1079.5 473V474M1087.5 484V485M1088.5 484V485M1092.5 484V485M1095.5 480V484M1096.5 480V481M1098.5 477V480M1100.5 475V477M1101.5 473V475M1103.5 472V473M1104.5 472V473M1117.5 637V642M1123.5 640V641M1133.5 643V648M1135.5 640V643M1151.5 664V665M1152.5 663V664M1175.5 674V675M1176.5 673V674" stroke="#46b2a7" stroke-width="1" fill="none"/><path d="M25.5 634V635M37.5 615V618M49.5 602V603M51.5 602V604M53.5 604V606M54.5 606V607M56.5 607V613M57.5 613V620M59.5 620V628M61.5 628V638M62.5 638V645M72.5 631V646M73.5 646V648M77.5 647V648M78.5 648V649M81.5 648V649M83.5 648V649M89.5 648V649M101.5 641V642M102.5 642V644M104.5 644V649M105.5 649V650M107.5 650V651M109.5 650V651M115.5 649V650M118.5 650V651M121.5 650V651M123.5 651V652M126.5 652V654M128.5 654V655M129.5 655V656M131.5 655V656M134.5 655V656M136.5 655V656M142.5 654V655M144.5 655V656M152.5 636V637M156.5 635V636M188.5 574V575M208.5 538V570M209.5 570V575M217.5 572V573M219.5 572V573M225.5 572V573M228.5 572V573M230.5 572V573M233.5 572V573M240.5 571V572M243.5 571V572M244.5 571V572M281.5 517V524M283.5 524V528M284.5 528V529M288.5 528V529M289.5 528V529M292.5 527V528M294.5 527V528M299.5 527V528M302.5 528V529M304.5 528V529M307.5 528V529M312.5 528V529M315.5 528V529M316.5 529V530M319.5 528V529M324.5 527V528M326.5 528V529M327.5 528V529M331.5 528V529M332.5 528V529M347.5 510V527M348.5 527V528M350.5 528V529M355.5 512V513M359.5 512V513M361.5 512V513M367.5 511V512M371.5 511V513M375.5 511V512M380.5 510V511M383.5 511V512M387.5 511V512M388.5 511V512M390.5 511V512M393.5 511V512M396.5 511V512M401.5 511V512M404.5 511V512M407.5 510V511M412.5 510V511M420.5 510V511M425.5 509V510M431.5 507V508M436.5 506V507M447.5 504V505M449.5 505V506M451.5 505V506M452.5 505V506M455.5 505V506M457.5 506V507M463.5 505V506M468.5 505V506M471.5 505V506M473.5 505V516M476.5 505V506M478.5 506V507M481.5 505V506M484.5 505V513M487.5 510V511M489.5 511V512M492.5 510V511M495.5 510V511M499.5 510V511M502.5 510V511M505.5 510V511M507.5 511V512M508.5 511V512M513.5 510V511M518.5 510V511M521.5 510V511M522.5 511V512M524.5 511V512M530.5 511V512M534.5 510V511M537.5 510V511M540.5 510V512M559.5 505V506M561.5 506V507M564.5 505V506M570.5 505V506M577.5 504V505M585.5 503V504M586.5 503V504M588.5 503V504M590.5 504V505M594.5 494V495M598.5 493V495M601.5 495V496M602.5 495V496M604.5 495V496M606.5 496V497M607.5 496V497M609.5 496V497M610.5 496V497M614.5 496V497M617.5 495V496M618.5 496V497M622.5 495V496M623.5 495V496M630.5 495V496M633.5 496V497M634.5 496V497M638.5 496V497M641.5 496V497M642.5 496V497M644.5 496V497M649.5 495V496M650.5 496V497M654.5 495V496M655.5 496V497M666.5 493V494M674.5 491V492M676.5 492V493M678.5 493V494M679.5 493V494M686.5 491V492M687.5 492V493M698.5 481V483M700.5 483V485M702.5 485V487M703.5 487V488M705.5 488V490M706.5 490V491M708.5 490V494M709.5 494V495M714.5 494V495M716.5 495V502M717.5 502V503M721.5 502V503M727.5 498V499M737.5 488V490M756.5 474V475M767.5 454V456M769.5 456V458M770.5 458V467M772.5 467V488M773.5 488V490M775.5 490V491M780.5 488V489M781.5 488V489M783.5 489V491M788.5 488V491M794.5 479V480M799.5 474V477M802.5 475V489M807.5 480V482M809.5 482V486M812.5 484V485M813.5 484V485M817.5 482V483M821.5 481V483M831.5 476V480M833.5 480V481M834.5 481V482M836.5 482V483M845.5 472V473M847.5 473V475M850.5 474V476M853.5 475V476M857.5 472V476M858.5 476V477M860.5 476V481M866.5 470V473M869.5 472V474M874.5 471V475M876.5 475V476M884.5 469V471M887.5 471V472M889.5 472V475M890.5 475V478M897.5 473V474M900.5 473V474M901.5 473V476M905.5 475V476M908.5 475V477M909.5 477V478M916.5 475V479M917.5 479V480M919.5 480V481M927.5 477V479M933.5 477V478M935.5 478V482M936.5 482V483M938.5 483V484M940.5 484V487M943.5 487V488M944.5 488V489M946.5 488V489M949.5 485V486M952.5 484V485M954.5 485V486M956.5 485V486M959.5 486V487M964.5 484V486M965.5 486V487M967.5 486V487M970.5 486V487M973.5 486V487M975.5 487V489M980.5 488V489M983.5 488V489M986.5 488V489M988.5 488V489M991.5 489V490M996.5 488V489M1000.5 485V486M1005.5 484V485M1008.5 482V483M1012.5 483V484M1013.5 484V485M1015.5 485V486M1018.5 485V486M1020.5 485V486M1021.5 485V486M1024.5 484V485M1026.5 485V486M1028.5 485V486M1029.5 485V486M1036.5 480V481M1037.5 481V482M1039.5 481V482M1040.5 481V482M1042.5 482V484M1048.5 476V477M1058.5 462V471M1060.5 471V475M1063.5 475V478M1064.5 478V479M1068.5 477V478M1072.5 475V477M1080.5 473V479M1082.5 479V483M1084.5 483V484M1085.5 484V485M1090.5 484V485M1093.5 484V485M1106.5 472V473M1107.5 472V534M1109.5 534V554M1111.5 554V600M1112.5 600V612M1114.5 612V619M1115.5 619V642M1119.5 637V638M1120.5 637V639M1122.5 639V641M1125.5 640V644M1127.5 644V647M1128.5 647V648M1130.5 647V648M1131.5 648V649M1136.5 640V641M1138.5 640V641M1139.5 641V642M1141.5 642V647M1143.5 647V654M1144.5 654V657M1146.5 657V662M1147.5 662V663M1149.5 663V664M1154.5 663V665M1155.5 665V666M1157.5 665V667M1159.5 667V668M1160.5 667V668M1162.5 668V669M1163.5 668V669M1165.5 668V670M1167.5 670V671M1168.5 670V671M1170.5 671V672M1171.5 672V673M1173.5 672V674M1178.5 673V675M1179.5 675V677M1181.5 677V679M1183.5 679V680M1184.5 680V682" stroke="#f06e6c" stroke-width="1" fill="none"/><path d="M1055 452.5H1184M1055 685.5H1184M1120.5 453V685" stroke="#1e88e5" stroke-width="1" fill="none"/></g><path d="M1115.2 680.2L1120.5 685L1125.8 680.2" stroke="#1e88e5" stroke-width="1.1" fill="none"/><rect x="1036.5" y="695" width="167.5" height="24" rx="3" fill="#3591e8"/><text x="1120.2" y="711" font-size="12" fill="#ffffff" textLength="151.3" lengthAdjust="spacingAndGlyphs" text-anchor="middle" stroke="#ffffff" stroke-width="0.3">-10.304K (−70.23%) −103038</text><text x="14" y="61" font-size="12" fill="#131722" textLength="162.3" lengthAdjust="spacingAndGlyphs" font-weight="bold">BTC/USDT Perp, 1D, Bitfinex</text><text x="13.5" y="77.8" font-size="12.4" fill="#131722" textLength="44.0" lengthAdjust="spacingAndGlyphs">Volume</text><text x="13.8" y="418.8" font-size="11.8" fill="#131722" textLength="226.1" lengthAdjust="spacingAndGlyphs">Open Interest (BTC/USDT Perp, Bitfinex)</text><g shape-rendering="crispEdges" stroke="#363a45" stroke-width="1" fill="none"><path d="M7 397.5H1398M7 741.5H1398M1334.5 41V769"/><path d="M1335 54.5H1339M1335 96.5H1339M1335 138.5H1339M1335 184.5H1339M1335 222.5H1339M1335 260.5H1339M1335 295.5H1339M1335 326.5H1339M1335 357.5H1339M1335 390.5H1339M1335 422.5H1339M1335 467.5H1339M1335 512.5H1339M1335 558.5H1339M1335 603.5H1339M1335 648.5H1339M1335 693.5H1339M1335 738.5H1339M69.5 742V746M166.5 742V746M264.5 742V746M358.5 742V746M455.5 742V746M553.5 742V746M652.5 742V746M749.5 742V746M847.5 742V746M941.5 742V746M1039.5 742V746M1136.5 742V746M1235.5 742V746M1333.5 742V746"/></g><text x="1343.5" y="58.7" font-size="12.1" fill="#131722" textLength="42.6" lengthAdjust="spacingAndGlyphs">80000.0</text><text x="1343.5" y="100.7" font-size="12.1" fill="#131722" textLength="42.6" lengthAdjust="spacingAndGlyphs">60000.0</text><text x="1343.5" y="142.7" font-size="12.1" fill="#131722" textLength="42.6" lengthAdjust="spacingAndGlyphs">45000.0</text><text x="1343.5" y="188.2" font-size="12.1" fill="#131722" textLength="42.6" lengthAdjust="spacingAndGlyphs">33000.0</text><text x="1343.5" y="226.6" font-size="12.1" fill="#131722" textLength="42.6" lengthAdjust="spacingAndGlyphs">25500.0</text><text x="1343.5" y="264.7" font-size="12.1" fill="#131722" textLength="42.6" lengthAdjust="spacingAndGlyphs">19500.0</text><text x="1343.5" y="299.1" font-size="12.1" fill="#131722" textLength="42.6" lengthAdjust="spacingAndGlyphs">15500.0</text><text x="1343.5" y="330.5" font-size="12.1" fill="#131722" textLength="42.6" lengthAdjust="spacingAndGlyphs">12500.0</text><text x="1343.5" y="361.7" font-size="12.1" fill="#131722" textLength="42.6" lengthAdjust="spacingAndGlyphs">10100.0</text><text x="1343.5" y="394.5" font-size="12.1" fill="#131722" textLength="36.0" lengthAdjust="spacingAndGlyphs">8100.0</text><g clip-path="url(#cso)"><text x="1343.5" y="426.9" font-size="12.1" fill="#131722" textLength="20.1" lengthAdjust="spacingAndGlyphs">16K</text><text x="1343.5" y="471.6" font-size="12.1" fill="#131722" textLength="20.1" lengthAdjust="spacingAndGlyphs">14K</text><text x="1343.5" y="516.7" font-size="12.1" fill="#131722" textLength="20.1" lengthAdjust="spacingAndGlyphs">12K</text><text x="1343.5" y="561.9" font-size="12.1" fill="#131722" textLength="20.1" lengthAdjust="spacingAndGlyphs">10K</text><text x="1343.5" y="607.1" font-size="12.1" fill="#131722" textLength="13.8" lengthAdjust="spacingAndGlyphs">8K</text><text x="1343.5" y="652.3" font-size="12.1" fill="#131722" textLength="13.8" lengthAdjust="spacingAndGlyphs">6K</text><text x="1343.5" y="697.5" font-size="12.1" fill="#131722" textLength="13.8" lengthAdjust="spacingAndGlyphs">4K</text><text x="1343.5" y="742.7" font-size="12.1" fill="#131722" textLength="13.8" lengthAdjust="spacingAndGlyphs">2K</text></g><path d="M1334 224.2H1391a2 2 0 0 1 2 2V238.9a2 2 0 0 1 -2 2H1334Z" fill="#26a69a"/><path d="M1334 232.5H1339" stroke="#ffffff" stroke-width="1" shape-rendering="crispEdges"/><text x="1343.5" y="236.9" font-size="12.1" fill="#ffffff" textLength="43.2" lengthAdjust="spacingAndGlyphs" stroke="#ffffff" stroke-width="0.3">23760.0</text><g clip-path="url(#ct)"><text x="69.5" y="759" font-size="12.2" fill="#131722" textLength="19.4" lengthAdjust="spacingAndGlyphs" text-anchor="middle">Sep</text><text x="166.4" y="759" font-size="12.2" fill="#131722" textLength="21.4" lengthAdjust="spacingAndGlyphs" text-anchor="middle">Nov</text><text x="264.5" y="759" font-size="12.2" fill="#131722" textLength="27.1" lengthAdjust="spacingAndGlyphs" font-weight="bold" text-anchor="middle">2021</text><text x="358.6" y="759" font-size="12.2" fill="#131722" textLength="20.4" lengthAdjust="spacingAndGlyphs" text-anchor="middle">Mar</text><text x="455.5" y="759" font-size="12.2" fill="#131722" textLength="21.0" lengthAdjust="spacingAndGlyphs" text-anchor="middle">May</text><text x="553.8" y="759" font-size="12.2" fill="#131722" textLength="16.6" lengthAdjust="spacingAndGlyphs" text-anchor="middle">Jul</text><text x="652.5" y="759" font-size="12.2" fill="#131722" textLength="19.4" lengthAdjust="spacingAndGlyphs" text-anchor="middle">Sep</text><text x="749.6" y="759" font-size="12.2" fill="#131722" textLength="21.4" lengthAdjust="spacingAndGlyphs" text-anchor="middle">Nov</text><text x="847.7" y="759" font-size="12.2" fill="#131722" textLength="28.1" lengthAdjust="spacingAndGlyphs" font-weight="bold" text-anchor="middle">2022</text><text x="941.6" y="759" font-size="12.2" fill="#131722" textLength="20.4" lengthAdjust="spacingAndGlyphs" text-anchor="middle">Mar</text><text x="1039.3" y="759" font-size="12.2" fill="#131722" textLength="21.0" lengthAdjust="spacingAndGlyphs" text-anchor="middle">May</text><text x="1136.5" y="759" font-size="12.2" fill="#131722" textLength="16.6" lengthAdjust="spacingAndGlyphs" text-anchor="middle">Jul</text><text x="1235.6" y="759" font-size="12.2" fill="#131722" textLength="19.4" lengthAdjust="spacingAndGlyphs" text-anchor="middle">Sep</text><text x="1333.6" y="759" font-size="12.2" fill="#131722" textLength="21.4" lengthAdjust="spacingAndGlyphs" text-anchor="middle">Nov</text></g><path d="M11.5 781.7H27.8M6 786.5H21.7M6 791.2H21.7M11.5 795.8H27.8" stroke="#ffffff" stroke-width="1.4" fill="none"/><text x="28.2" y="793" font-size="12.6" fill="#ffffff" textLength="53.5" lengthAdjust="spacingAndGlyphs">Coinalyze</text></svg>
</body></html>
